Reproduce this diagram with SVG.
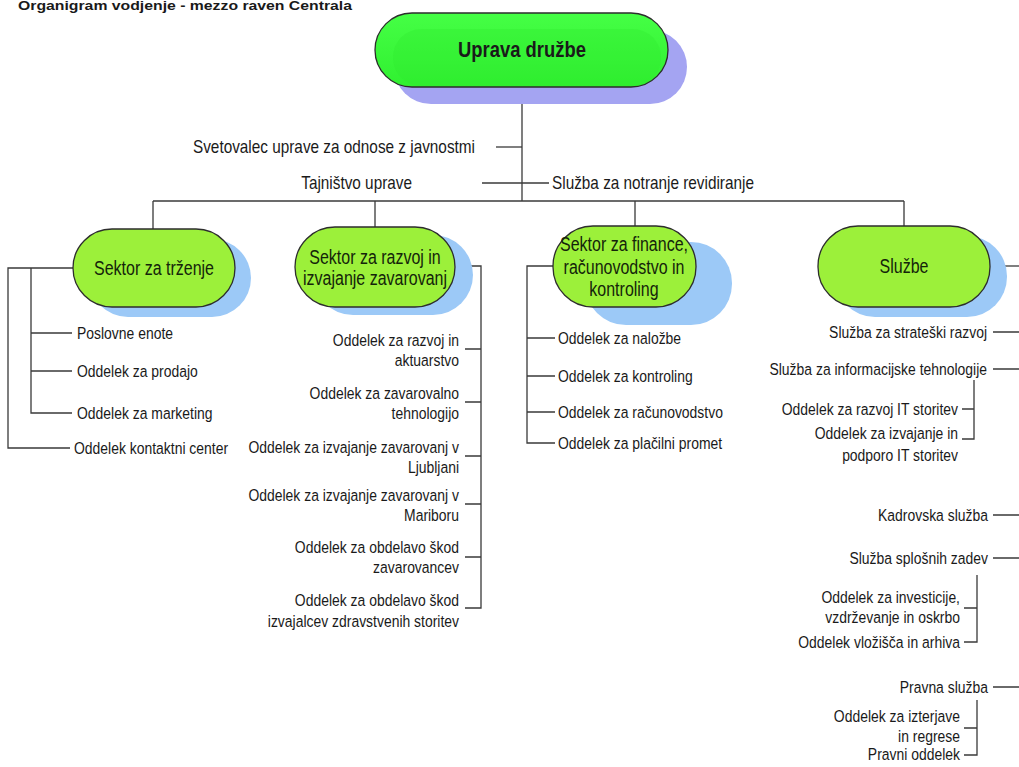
<svg xmlns="http://www.w3.org/2000/svg" width="1019" height="767" viewBox="0 0 1019 767">
<style>
text{font-family:"Liberation Sans",Arial,sans-serif;fill:#1a1a1a}
.n{font-size:17px}
.tl{font-size:18.7px}
.ts{font-size:19.5px;text-anchor:middle;fill:#14240a}
.e{text-anchor:end}
.m{text-anchor:middle}
.pill{fill:#9cf03a;stroke:#2d2d2d;stroke-width:1.3}
.sh{fill:#9cc9f7}
.ln{fill:none;stroke:#3a3a3a;stroke-width:1.3}
</style>
<defs>
<linearGradient id="gTop" x1="0" y1="0" x2="0" y2="1">
<stop offset="0" stop-color="#45ff45"/>
<stop offset="1" stop-color="#30f030"/>
</linearGradient>
</defs>
<rect width="1019" height="767" fill="#ffffff"/>

<text id="title" x="18" y="10" font-weight="bold" font-size="12" textLength="334" lengthAdjust="spacingAndGlyphs">Organigram vodjenje - mezzo raven Centrala</text>

<g id="connectors" class="ln">
<path d="M522 87V201"/>
<path d="M496 147H522"/>
<path d="M482 183H549"/>
<path d="M153 201H904"/>
<path d="M153 201V229M375 201V227M635 201V226M904 201V226"/>
<path d="M73 268H8V448H70"/>
<path d="M31 268V413H72M31 333H72M31 371H72"/>
<path d="M455 266H481V608H465"/>
<path d="M465 349H481M465 402H481M465 456H481M465 504H481M465 557H481"/>
<path d="M553 266H527V443H555"/>
<path d="M527 338H555M527 376H555M527 412H555"/>
<path d="M990 266H1019"/>
<path d="M993 332H1019M993 369H1019M993 515H1019M993 558H1019M993 687H1019"/>
<path d="M974 380V439H962M962 409H974"/>
<path d="M977 575V642H964M964 608H977"/>
<path d="M977 700V755H964M964 728H977"/>
</g>

<g id="n-uprava">
<rect x="394" y="30" width="293" height="74" rx="37" fill="#a4a4f2"/>
<rect x="375" y="13" width="293" height="74" rx="37" fill="url(#gTop)" stroke="#2d2d2d" stroke-width="1.3"/>
<rect x="393" y="29" width="268" height="57" rx="28" fill="#2ee82e" opacity="0.3"/>
<text x="0" y="0" transform="translate(522 57) scale(.82 1)" font-size="22.5" font-weight="bold" text-anchor="middle" fill="#0d1a0d">Uprava družbe</text>
</g>

<g id="n-top-labels">
<text class="tl e" transform="translate(475 153) scale(.82 1)">Svetovalec uprave za odnose z javnostmi</text>
<text class="tl e" transform="translate(412 189) scale(.82 1)">Tajništvo uprave</text>
<text class="tl" transform="translate(552 189) scale(.82 1)">Služba za notranje revidiranje</text>
</g>

<g id="n-trzenje">
<rect class="sh" x="89" y="239" width="162" height="78" rx="39"/>
<rect class="pill" x="73" y="229" width="162" height="78" rx="39"/>
<text class="ts" transform="translate(154 275) scale(.82 1)">Sektor za trženje</text>
<text class="n" transform="translate(77 339) scale(.82 1)">Poslovne enote</text>
<text class="n" transform="translate(77 377) scale(.82 1)">Oddelek za prodajo</text>
<text class="n" transform="translate(77 419) scale(.82 1)">Oddelek za marketing</text>
<text class="n" transform="translate(74 454) scale(.82 1)">Oddelek kontaktni center</text>
</g>

<g id="n-razvoj">
<rect class="sh" x="313" y="235" width="160" height="80" rx="40"/>
<rect class="pill" x="295" y="227" width="160" height="80" rx="40"/>
<text class="ts" transform="translate(375 264) scale(.82 1)">Sektor za razvoj in</text>
<text class="ts" transform="translate(375 285) scale(.82 1)">izvajanje zavarovanj</text>
<g class="n e">
<text transform="translate(459 346) scale(.82 1)">Oddelek za razvoj in<tspan x="0" dy="20">aktuarstvo</tspan></text>
<text transform="translate(459 399) scale(.82 1)">Oddelek za zavarovalno<tspan x="0" dy="20">tehnologijo</tspan></text>
<text transform="translate(459 453) scale(.82 1)">Oddelek za izvajanje zavarovanj v<tspan x="0" dy="20">Ljubljani</tspan></text>
<text transform="translate(459 501) scale(.82 1)">Oddelek za izvajanje zavarovanj v<tspan x="0" dy="20">Mariboru</tspan></text>
<text transform="translate(459 553) scale(.82 1)">Oddelek za obdelavo škod<tspan x="0" dy="20">zavarovancev</tspan></text>
<text transform="translate(459 606) scale(.82 1)">Oddelek za obdelavo škod<tspan x="0" dy="21">izvajalcev zdravstvenih storitev</tspan></text>
</g>
</g>

<g id="n-finance">
<rect class="sh" x="585" y="242" width="147" height="83" rx="41"/>
<rect class="pill" x="553" y="226" width="143" height="81" rx="40"/>
<text class="ts" transform="translate(624 251) scale(.82 1)">Sektor za finance,</text>
<text class="ts" transform="translate(624 274) scale(.82 1)">računovodstvo in</text>
<text class="ts" transform="translate(624 296) scale(.82 1)">kontroling</text>
<text class="n" transform="translate(558 344) scale(.82 1)">Oddelek za naložbe</text>
<text class="n" transform="translate(558 382) scale(.82 1)">Oddelek za kontroling</text>
<text class="n" transform="translate(558 418) scale(.82 1)">Oddelek za računovodstvo</text>
<text class="n" transform="translate(558 449) scale(.82 1)">Oddelek za plačilni promet</text>
</g>

<g id="n-sluzbe">
<rect class="sh" x="835" y="236" width="172" height="81" rx="40"/>
<rect class="pill" x="818" y="226" width="172" height="81" rx="40"/>
<text class="ts" transform="translate(904 273) scale(.82 1)">Službe</text>
<g class="n e">
<text transform="translate(987 338) scale(.82 1)">Služba za strateški razvoj</text>
<text transform="translate(987 375) scale(.82 1)">Služba za informacijske tehnologije</text>
<text transform="translate(958 415) scale(.82 1)">Oddelek za razvoj IT storitev</text>
<text transform="translate(958 439) scale(.82 1)">Oddelek za izvajanje in<tspan x="0" dy="22">podporo IT storitev</tspan></text>
<text transform="translate(988 521) scale(.82 1)">Kadrovska služba</text>
<text transform="translate(988 564) scale(.82 1)">Služba splošnih zadev</text>
<text transform="translate(960 603) scale(.82 1)">Oddelek za investicije,<tspan x="0" dy="20">vzdrževanje in oskrbo</tspan></text>
<text transform="translate(960 648) scale(.82 1)">Oddelek vložišča in arhiva</text>
<text transform="translate(988 693) scale(.82 1)">Pravna služba</text>
<text transform="translate(960 722) scale(.82 1)">Oddelek za izterjave<tspan x="0" dy="20">in regrese</tspan></text>
<text transform="translate(960 760) scale(.82 1)">Pravni oddelek</text>
</g>
</g>
</svg>
